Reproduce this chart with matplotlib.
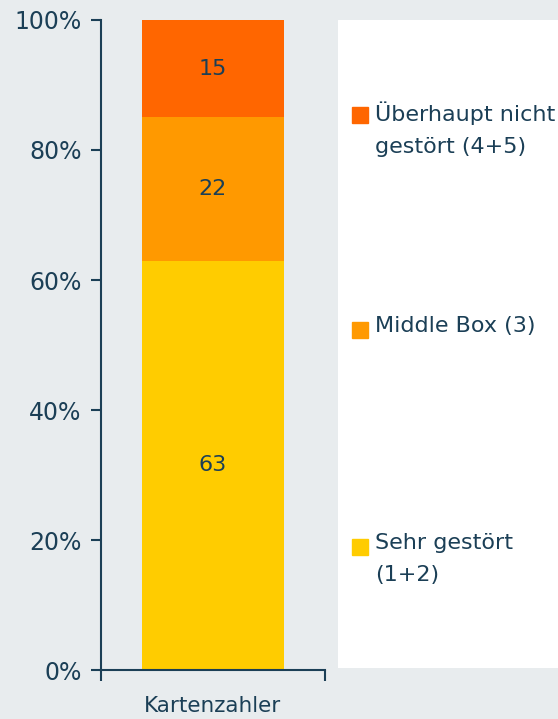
import matplotlib.pyplot as plt
from matplotlib.patches import Rectangle

# Data
category = 'Kartenzahler'
segments = ['Sehr gestört\n(1+2)', 'Middle Box (3)', 'Überhaupt nicht\ngestört (4+5)']
values = [63, 22, 15]
colors = ['#ffcc00', '#ff9900', '#ff6600']
yticks = [0, 20, 40, 60, 80, 100]

bg = '#e8ecee'
ink = '#1b3f56'
plt.rcParams['font.family'] = ['DejaVu Sans']

fig = plt.figure(figsize=(5.58, 7.19), dpi=100, facecolor=bg)
ax = fig.add_axes([0.181, 0.0681, 0.4014, 0.9041])
ax.set_facecolor(bg)

bottom = 0
for v, c in zip(values, colors):
    ax.bar(0, v, width=0.63, bottom=bottom, color=c, linewidth=0, zorder=2)
    ax.text(0, bottom + v / 2, str(v), ha='center', va='center',
            fontsize=16, color=ink, zorder=3)
    bottom += v

ax.set_xlim(-0.5, 0.5)
ax.set_ylim(0, 100)
ax.set_yticks(yticks)
ax.set_yticklabels(['{}%'.format(t) for t in yticks], fontsize=17, color=ink)
ax.set_xticks([-0.5, 0.5])
ax.set_xticklabels(['', ''])
ax.text(0, -0.04, category, transform=ax.get_xaxis_transform(),
        ha='center', va='top', fontsize=15.5, color=ink)
ax.tick_params(axis='y', length=7, width=1.5, color=ink, pad=7)
ax.tick_params(axis='x', length=8, width=1.5, color=ink)
for s in ['top', 'right']:
    ax.spines[s].set_visible(False)
for s in ['left', 'bottom']:
    ax.spines[s].set_color(ink)
    ax.spines[s].set_linewidth(1.5)

# Legend panel on white background
lg = fig.add_axes([0.6057, 0.0709, 0.3943, 0.9013])
lg.set_facecolor('white')
lg.set_xlim(0, 220)
lg.set_ylim(648, 0)
lg.axis('off')
lg.add_patch(Rectangle((0, 0), 220, 648, color='white', zorder=0))
entry_y = [527, 310, 95]
for lab, c, yy in zip(segments, colors, entry_y):
    lg.add_patch(Rectangle((14, yy - 8), 16, 16, color=c, zorder=2))
    lg.text(37, yy - 14, lab, ha='left', va='top', fontsize=16,
            color=ink, linespacing=1.75)

fig.savefig('out.png', dpi=100, facecolor=bg)
